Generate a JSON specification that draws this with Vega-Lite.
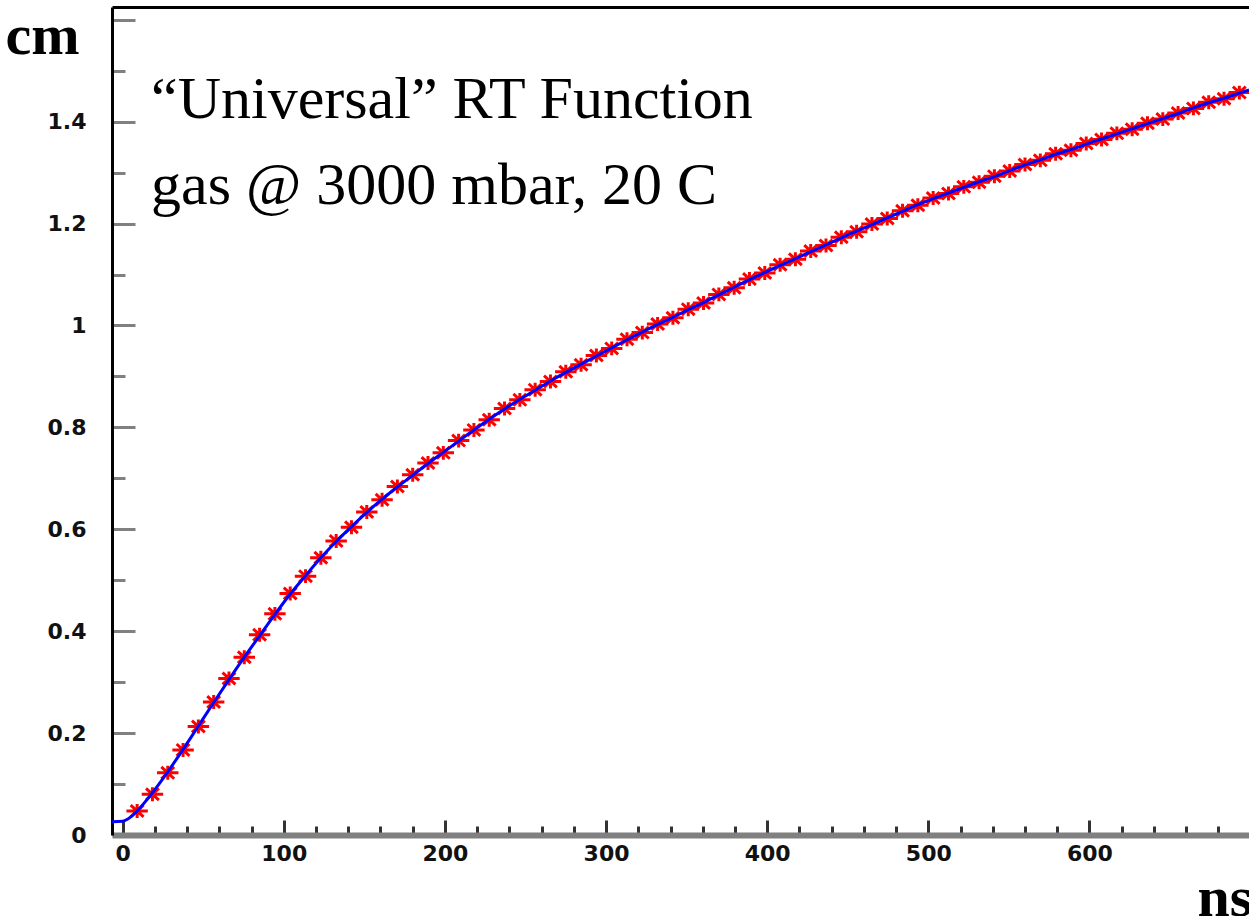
{
  "$schema": "https://vega.github.io/schema/vega-lite/v6.json",
  "width": 1137,
  "height": 828,
  "autosize": "none",
  "padding": {"left": 112, "top": 7, "right": 0, "bottom": 81},
  "background": "white",
  "config": {"view": {"stroke": null}, "axis": {"grid": false}},
  "title": {
    "text": ["“Universal” RT Function", "gas @ 3000 mbar, 20 C"],
    "anchor": "start",
    "frame": "group",
    "orient": "top",
    "font": "Liberation Serif",
    "fontSize": 60,
    "fontWeight": "normal",
    "color": "black",
    "lineHeight": 86,
    "baseline": "alphabetic",
    "offset": 0,
    "dx": 39,
    "dy": 257
  },
  "datasets": {
    "curve": [
      {"t": -6.6, "r": 0.026}, {"t": 0, "r": 0.027}, {"t": 3, "r": 0.031}, {"t": 6, "r": 0.038},
      {"t": 9, "r": 0.047}, {"t": 18.5, "r": 0.083}, {"t": 28, "r": 0.124}, {"t": 37.5, "r": 0.168},
      {"t": 47, "r": 0.214}, {"t": 56.5, "r": 0.26}, {"t": 66, "r": 0.305}, {"t": 75.5, "r": 0.349},
      {"t": 85, "r": 0.391}, {"t": 94.5, "r": 0.433}, {"t": 104, "r": 0.473}, {"t": 113.5, "r": 0.509},
      {"t": 123, "r": 0.544}, {"t": 132.5, "r": 0.576}, {"t": 142, "r": 0.605}, {"t": 151.5, "r": 0.633},
      {"t": 161, "r": 0.659}, {"t": 170.5, "r": 0.683}, {"t": 180, "r": 0.706}, {"t": 189.5, "r": 0.729},
      {"t": 199, "r": 0.751}, {"t": 208.5, "r": 0.773}, {"t": 218, "r": 0.795}, {"t": 227.5, "r": 0.816},
      {"t": 237, "r": 0.836}, {"t": 246.5, "r": 0.855}, {"t": 256, "r": 0.873}, {"t": 265.5, "r": 0.891},
      {"t": 275, "r": 0.908}, {"t": 284.5, "r": 0.924}, {"t": 294, "r": 0.94}, {"t": 303.5, "r": 0.956},
      {"t": 313, "r": 0.972}, {"t": 322.5, "r": 0.987}, {"t": 332, "r": 1.002}, {"t": 341.5, "r": 1.016},
      {"t": 351, "r": 1.031}, {"t": 360.5, "r": 1.045}, {"t": 370, "r": 1.06}, {"t": 379.5, "r": 1.075},
      {"t": 389, "r": 1.09}, {"t": 398.5, "r": 1.104}, {"t": 408, "r": 1.118}, {"t": 417.5, "r": 1.131},
      {"t": 427, "r": 1.145}, {"t": 436.5, "r": 1.158}, {"t": 446, "r": 1.172}, {"t": 455.5, "r": 1.185},
      {"t": 465, "r": 1.198}, {"t": 474.5, "r": 1.211}, {"t": 484, "r": 1.224}, {"t": 493.5, "r": 1.237},
      {"t": 503, "r": 1.249}, {"t": 512.5, "r": 1.26}, {"t": 522, "r": 1.271}, {"t": 531.5, "r": 1.282},
      {"t": 541, "r": 1.292}, {"t": 550.5, "r": 1.304}, {"t": 560, "r": 1.315}, {"t": 569.5, "r": 1.325},
      {"t": 579, "r": 1.336}, {"t": 588.5, "r": 1.345}, {"t": 598, "r": 1.356}, {"t": 607.5, "r": 1.366},
      {"t": 617, "r": 1.376}, {"t": 626.5, "r": 1.386}, {"t": 636, "r": 1.396}, {"t": 645.5, "r": 1.406},
      {"t": 655, "r": 1.416}, {"t": 664.5, "r": 1.427}, {"t": 674, "r": 1.437}, {"t": 683.5, "r": 1.446},
      {"t": 693, "r": 1.456}, {"t": 699, "r": 1.462}
    ],
    "stars": [
      {"t": 9, "r": 0.047}, {"t": 18.5, "r": 0.08}, {"t": 28, "r": 0.122}, {"t": 37.5, "r": 0.167},
      {"t": 47, "r": 0.213}, {"t": 56.5, "r": 0.261}, {"t": 66, "r": 0.307}, {"t": 75.5, "r": 0.349},
      {"t": 85, "r": 0.393}, {"t": 94.5, "r": 0.434}, {"t": 104, "r": 0.474}, {"t": 113.5, "r": 0.508},
      {"t": 123, "r": 0.544}, {"t": 132.5, "r": 0.577}, {"t": 142, "r": 0.604}, {"t": 151.5, "r": 0.634},
      {"t": 161, "r": 0.658}, {"t": 170.5, "r": 0.684}, {"t": 180, "r": 0.707}, {"t": 189.5, "r": 0.73},
      {"t": 199, "r": 0.75}, {"t": 208.5, "r": 0.774}, {"t": 218, "r": 0.795}, {"t": 227.5, "r": 0.815},
      {"t": 237, "r": 0.837}, {"t": 246.5, "r": 0.854}, {"t": 256, "r": 0.874}, {"t": 265.5, "r": 0.89},
      {"t": 275, "r": 0.909}, {"t": 284.5, "r": 0.923}, {"t": 294, "r": 0.941}, {"t": 303.5, "r": 0.955},
      {"t": 313, "r": 0.973}, {"t": 322.5, "r": 0.986}, {"t": 332, "r": 1.003}, {"t": 341.5, "r": 1.015},
      {"t": 351, "r": 1.032}, {"t": 360.5, "r": 1.044}, {"t": 370, "r": 1.061}, {"t": 379.5, "r": 1.074},
      {"t": 389, "r": 1.091}, {"t": 398.5, "r": 1.103}, {"t": 408, "r": 1.119}, {"t": 417.5, "r": 1.13},
      {"t": 427, "r": 1.146}, {"t": 436.5, "r": 1.157}, {"t": 446, "r": 1.173}, {"t": 455.5, "r": 1.184},
      {"t": 465, "r": 1.199}, {"t": 474.5, "r": 1.21}, {"t": 484, "r": 1.225}, {"t": 493.5, "r": 1.236},
      {"t": 503, "r": 1.25}, {"t": 512.5, "r": 1.259}, {"t": 522, "r": 1.272}, {"t": 531.5, "r": 1.281},
      {"t": 541, "r": 1.293}, {"t": 550.5, "r": 1.303}, {"t": 560, "r": 1.316}, {"t": 569.5, "r": 1.324},
      {"t": 579, "r": 1.337}, {"t": 588.5, "r": 1.344}, {"t": 598, "r": 1.357}, {"t": 607.5, "r": 1.365},
      {"t": 617, "r": 1.377}, {"t": 626.5, "r": 1.385}, {"t": 636, "r": 1.397}, {"t": 645.5, "r": 1.405},
      {"t": 655, "r": 1.417}, {"t": 664.5, "r": 1.426}, {"t": 674, "r": 1.438}, {"t": 683.5, "r": 1.445},
      {"t": 693, "r": 1.457}
    ]
  },
  "resolve": {"axis": {"x": "independent"}},
  "layer": [
    {
      "data": {"name": "stars"},
      "mark": {
        "type": "point",
        "shape": "M-1,0L1,0M0,-0.65L0,0.65M-0.6,-0.55L0.6,0.55M-0.6,0.55L0.6,-0.55",
        "filled": false,
        "stroke": "#ff0000",
        "strokeWidth": 3,
        "opacity": 1,
        "size": 460,
        "clip": true
      },
      "encoding": {
        "x": {
          "field": "t",
          "type": "quantitative",
          "scale": {"domain": [-6.6, 699], "nice": false, "zero": false},
          "axis": {
            "orient": "bottom",
            "values": [0, 20, 40, 60, 80, 100, 120, 140, 160, 180, 200, 220, 240, 260, 280, 300, 320, 340, 360, 380, 400, 420, 440, 460, 480, 500, 520, 540, 560, 580, 600, 620, 640, 660, 680],
            "format": "d",
            "labelExpr": "datum.value % 100 === 0 ? datum.label : ''",
            "labelFont": "DejaVu Sans",
            "labelFontWeight": "bold",
            "labelFontSize": 22,
            "labelColor": "#111111",
            "labelPadding": 23,
            "labelBaseline": "top",
            "labelFlush": false,
            "labelOverlap": false,
            "domainColor": "#808080",
            "domainWidth": 6,
            "tickColor": "#333333",
            "tickWidth": 3,
            "tickSize": {"condition": {"test": "datum.value % 100 === 0", "value": -15}, "value": -9},
            "title": "ns",
            "titleFont": "Liberation Serif",
            "titleFontSize": 58,
            "titleFontWeight": "bold",
            "titleColor": "black",
            "titleAngle": 0,
            "titleAlign": "left",
            "titleBaseline": "alphabetic",
            "titleX": 1085,
            "titleY": 80
          }
        },
        "y": {
          "field": "r",
          "type": "quantitative",
          "scale": {"domain": [0, 1.625], "nice": false, "zero": false},
          "axis": {
            "values": [0, 0.05, 0.1, 0.15, 0.2, 0.25, 0.3, 0.35, 0.4, 0.45, 0.5, 0.55, 0.6, 0.65, 0.7, 0.75, 0.8, 0.85, 0.9, 0.95, 1, 1.05, 1.1, 1.15, 1.2, 1.25, 1.3, 1.35, 1.4, 1.45, 1.5, 1.55, 1.6],
            "format": "~g",
            "labelExpr": "(abs(datum.value * 5 - round(datum.value * 5)) < 0.001 && datum.value < 1.5) ? datum.label : ''",
            "labelFont": "DejaVu Sans",
            "labelFontWeight": "bold",
            "labelFontSize": 22,
            "labelColor": "#111111",
            "labelPadding": 49,
            "labelBaseline": "middle",
            "labelFlush": false,
            "labelOverlap": false,
            "domainColor": "black",
            "domainWidth": 3,
            "tickColor": "#808080",
            "tickWidth": 3,
            "tickSize": {"condition": {"test": "abs(datum.value * 5 - round(datum.value * 5)) < 0.001", "value": -23}, "value": -13},
            "title": "cm",
            "titleFont": "Liberation Serif",
            "titleFontSize": 58,
            "titleFontWeight": "bold",
            "titleColor": "black",
            "titleAngle": 0,
            "titleAlign": "right",
            "titleBaseline": "alphabetic",
            "titleX": -33,
            "titleY": 46
          }
        }
      }
    },
    {
      "data": {"name": "curve"},
      "mark": {"type": "line", "color": "#0000ff", "strokeWidth": 3, "clip": true, "interpolate": "monotone"},
      "encoding": {
        "x": {
          "field": "t",
          "type": "quantitative",
          "axis": {
            "orient": "top",
            "domainColor": "black",
            "domainWidth": 3,
            "ticks": false,
            "labels": false,
            "title": null
          }
        },
        "y": {"field": "r", "type": "quantitative"}
      }
    }
  ]
}
